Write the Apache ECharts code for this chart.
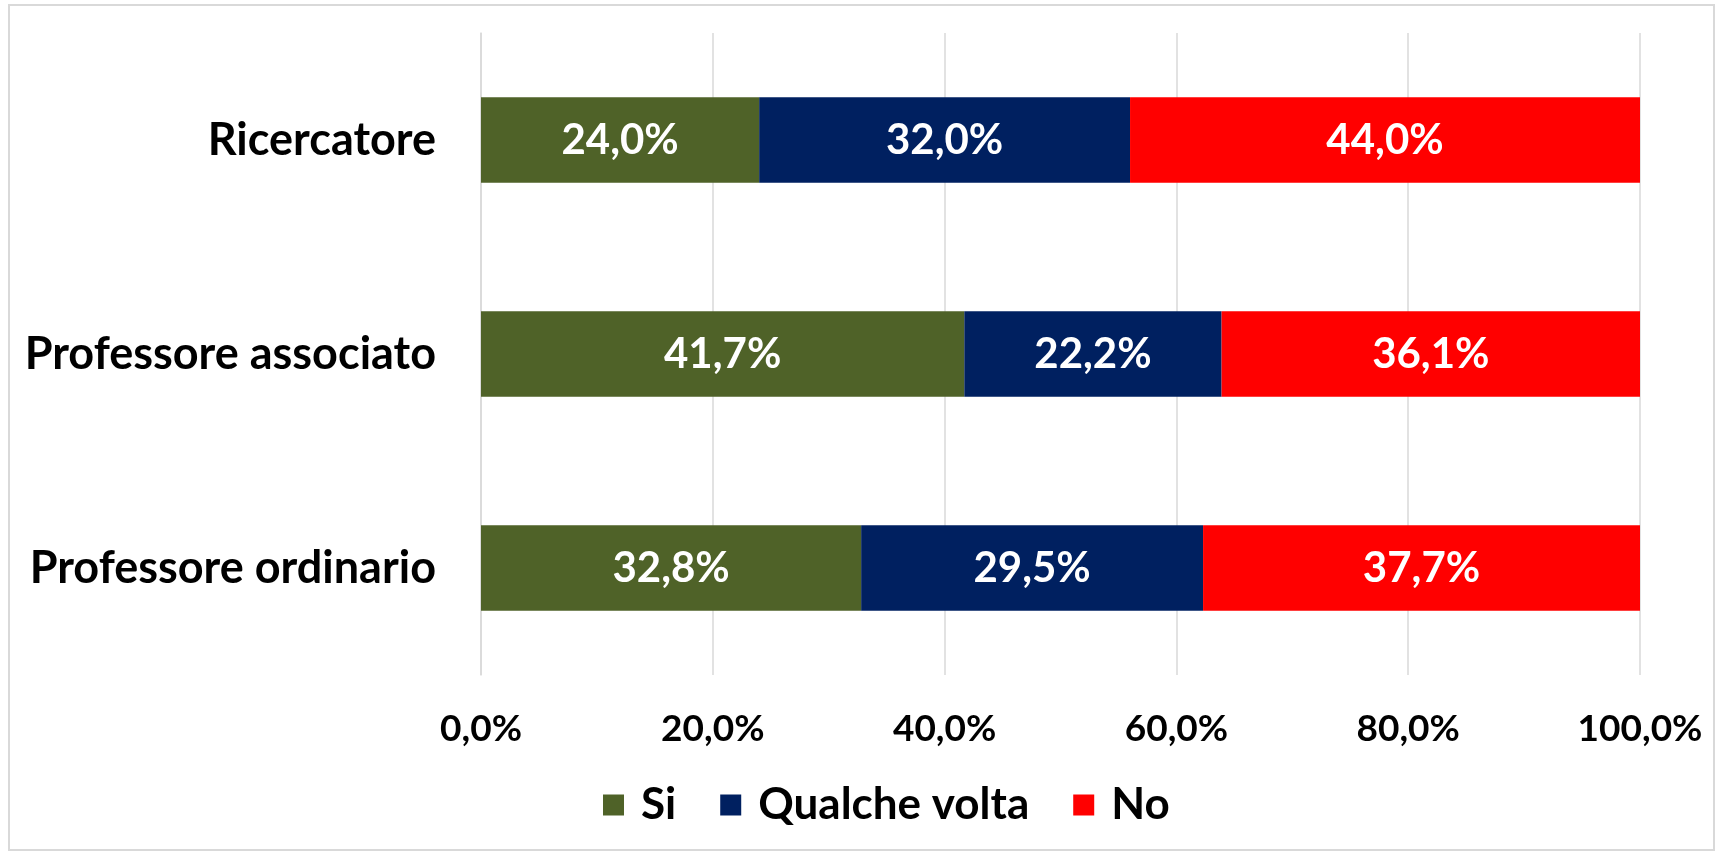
<!DOCTYPE html>
<html>
<head>
<meta charset="utf-8">
<script src="https://cdn.jsdelivr.net/npm/echarts@6/dist/echarts.min.js"></script>
<style>
  html, body { margin: 0; padding: 0; background: #fff; }
  #chart { width: 1720px; height: 856px; }
</style>
</head>
<body>
<div id="chart"></div>
<script>
  // categories from bottom to top
  const categories = ['Professore ordinario', 'Professore associato', 'Ricercatore']
  const seriesNames = ['Si', 'Qualche volta', 'No']
  const siValues = [32.8, 41.7, 24.0]
  const qualcheVoltaValues = [29.5, 22.2, 32.0]
  const noValues = [37.7, 36.1, 44.0]
  const colors = ['#4F6228', '#002060', '#FF0000']

  const font = 'Lato, "Open Sans", sans-serif'
  const pct = (v) => v.toFixed(1).replace('.', ',') + '%'

  const chart = echarts.init(document.getElementById('chart'))

  const makeSeries = (name, data, color) => ({
    name,
    type: 'bar',
    stack: 'tot',
    data,
    barWidth: '40%',
    itemStyle: { color },
    label: {
      show: true,
      position: 'inside',
      color: '#fff',
      fontFamily: font,
      fontWeight: 'bold',
      fontSize: 42,
      formatter: (p) => pct(p.value),
    },
  })

  chart.setOption({
    animation: false,
    graphic: [
      {
        type: 'rect',
        shape: { x: 9, y: 5, width: 1705, height: 845 },
        style: { fill: 'none', stroke: '#d9d9d9', lineWidth: 2 },
        silent: true,
      },
    ],
    grid: { left: 481, right: 80, top: 33, bottom: 181, containLabel: false },
    legend: {
      bottom: 24,
      left: 598,
      itemWidth: 21,
      itemHeight: 21,
      itemGap: 44,
      icon: 'rect',
      data: seriesNames,
      textStyle: {
        fontFamily: font,
        fontWeight: 'bold',
        fontSize: 44,
        color: '#000',
        padding: [0, 0, 0, 12],
      },
    },
    xAxis: {
      type: 'value',
      min: 0,
      max: 100,
      interval: 20,
      axisLine: { show: false },
      axisTick: { show: false },
      splitLine: { lineStyle: { color: '#d9d9d9', width: 1.5 } },
      axisLabel: {
        margin: 36,
        color: '#000',
        fontFamily: font,
        fontWeight: 'bold',
        fontSize: 37,
        formatter: (v) => pct(v),
      },
    },
    yAxis: {
      type: 'category',
      data: categories,
      axisLine: { show: true, lineStyle: { color: '#d9d9d9', width: 1.5 } },
      axisTick: { show: false },
      axisLabel: {
        margin: 45,
        color: '#000',
        fontFamily: font,
        fontWeight: 'bold',
        fontSize: 45,
      },
    },
    series: [
      makeSeries(seriesNames[0], siValues, colors[0]),
      makeSeries(seriesNames[1], qualcheVoltaValues, colors[1]),
      makeSeries(seriesNames[2], noValues, colors[2]),
    ],
  })
</script>
</body>
</html>
